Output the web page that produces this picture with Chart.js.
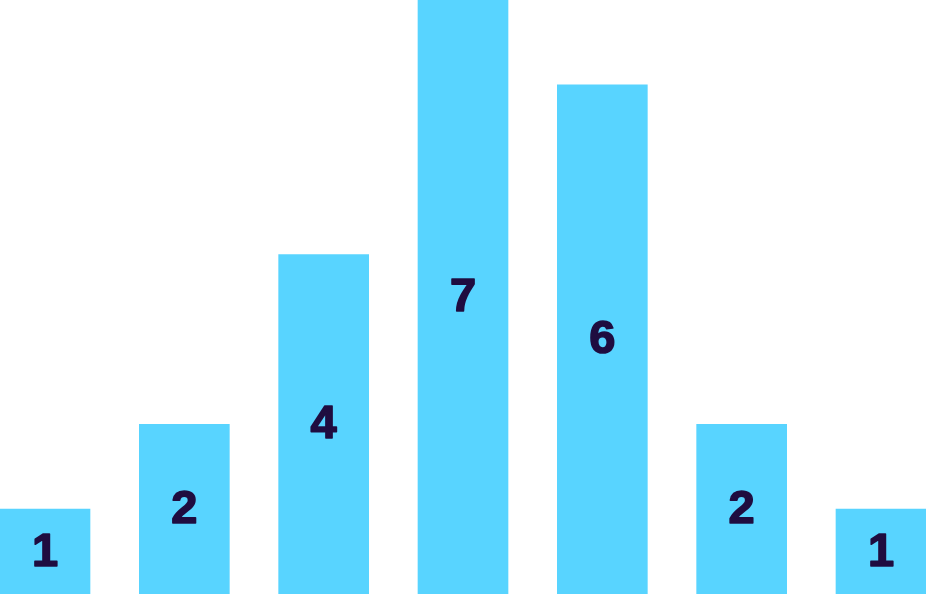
<!DOCTYPE html>
<html>
<head>
<meta charset="utf-8">
<script src="https://cdn.jsdelivr.net/npm/chart.js@4/dist/chart.umd.min.js"></script>
<style>
  html, body { margin: 0; padding: 0; background: #fff; }
  #wrap { width: 926px; height: 594px; }
</style>
</head>
<body>
<div id="wrap"><canvas id="grafico"></canvas></div>
<script>
// dados
const categorias = ['A', 'B', 'C', 'D', 'E', 'F', 'G'];
const valores = [1, 2, 4, 7, 6, 2, 1];

// escreve o valor no meio de cada barra
const rotulosNoMeio = {
    id: 'rotulosNoMeio',
    afterDatasetsDraw(chart) {
        const ctx = chart.ctx;
        const meta = chart.getDatasetMeta(0);
        ctx.save();
        ctx.fillStyle = '#1f0d40';
        ctx.strokeStyle = '#1f0d40';
        ctx.lineWidth = 1.6;
        ctx.lineJoin = 'round';
        ctx.font = 'bold 47px "Liberation Sans", Arial, sans-serif';
        ctx.textAlign = 'center';
        ctx.textBaseline = 'middle';
        meta.data.forEach((barra, i) => {
            const p = barra.getCenterPoint();
            ctx.fillText(String(valores[i]), p.x, p.y + 1);
            ctx.strokeText(String(valores[i]), p.x, p.y + 1);
        });
        ctx.restore();
    }
};

new Chart(document.getElementById('grafico'), {
    type: 'bar',
    data: {
        labels: categorias,
        datasets: [{
            data: valores,
            backgroundColor: '#58d4ff',
            barThickness: 90,
            borderWidth: 0,
            clip: false
        }]
    },
    options: {
        responsive: true,
        maintainAspectRatio: false,
        animation: false,
        layout: { padding: { left: 45, right: 45, top: 0, bottom: 0 } },
        plugins: { legend: { display: false }, tooltip: { enabled: false } },
        scales: {
            x: { display: false, offset: false },
            y: { display: false, min: 0, max: 7 }
        }
    },
    plugins: [rotulosNoMeio]
});
</script>
</body>
</html>
